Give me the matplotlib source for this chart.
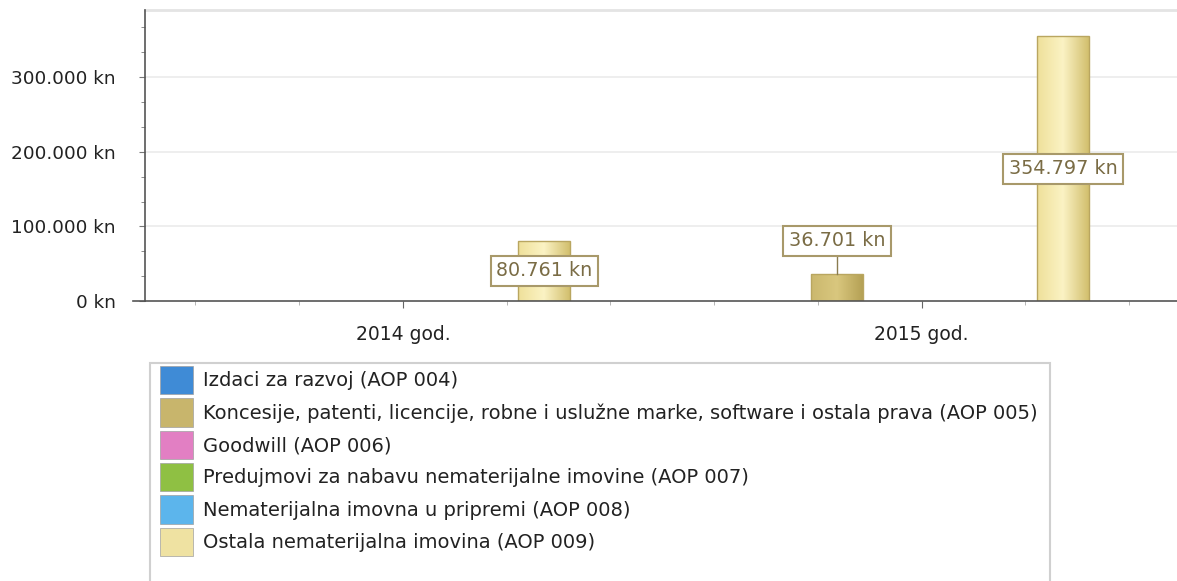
import matplotlib.pyplot as plt
import numpy as np
from matplotlib.patches import Rectangle
from matplotlib.colors import LinearSegmentedColormap

# podaci
years = ['2014 god.', '2015 god.']
series = ['Izdaci za razvoj (AOP 004)',
          'Koncesije, patenti, licencije, robne i uslužne marke, software i ostala prava (AOP 005)',
          'Goodwill (AOP 006)',
          'Predujmovi za nabavu nematerijalne imovine (AOP 007)',
          'Nematerijalna imovna u pripremi (AOP 008)',
          'Ostala nematerijalna imovina (AOP 009)']
aop004 = [0, 0]
aop005 = [0, 36701]
aop006 = [0, 0]
aop007 = [0, 0]
aop008 = [0, 0]
aop009 = [80761, 354797]
values = [aop004, aop005, aop006, aop007, aop008, aop009]
yticks = [0, 100000, 200000, 300000]

colors = ['#3f8bd6', '#c8b56c', '#e27fc3', '#8fc043', '#5cb5ec', '#efe2a2']
grad = {1: ['#cbb86e', '#d9c77e', '#b5a155'],
        5: ['#efe09a', '#fbf3c4', '#d2bf6e']}


def fmt(v):
    return f"{v:,.0f}".replace(',', '.') + ' kn'


fig = plt.figure(figsize=(11.77, 5.81), dpi=100)
ax = fig.add_axes([145 / 1177, 1 - 301 / 581, 1 - 145 / 1177, 291 / 581])

x = np.arange(len(years))
slot = 0.109
width = 0.1
ymax = 390000
lbl = dict(ha='center', va='center', fontsize=13.8, color='#7a6c45', zorder=4,
           bbox=dict(boxstyle='square,pad=0.28', fc='white', ec='#a8996a', lw=1.5))

for i, (name, vals) in enumerate(zip(series, values)):
    pos = x + (i - 2.5) * slot
    bars = ax.bar(pos, vals, width=width, color=colors[i], edgecolor='none', zorder=2)
    for b, v in zip(bars, vals):
        if v <= 0:
            continue
        cmap = LinearSegmentedColormap.from_list('g', grad[i])
        x0, w, h = b.get_x(), b.get_width(), b.get_height()
        im = ax.imshow(np.linspace(0, 1, 100).reshape(1, -1), cmap=cmap, aspect='auto',
                       extent=[x0, x0 + w, 0, h], zorder=2.1)
        im.set_clip_path(b)
        ax.add_patch(Rectangle((x0, 0), w, h, fill=False, edgecolor='#b9a660', lw=1, zorder=2.2))
        # oznaka vrijednosti
        if v > 60000:
            ax.text(x0 + w / 2, v / 2, fmt(v), **lbl)
        else:
            ly = v + 44000
            ax.plot([x0 + w / 2, x0 + w / 2], [v, ly - 14000], color='#8a7c50', lw=1, zorder=3)
            ax.text(x0 + w / 2, ly, fmt(v), **lbl)

ax.set_xlim(-0.497, 1.492)
ax.set_ylim(0, ymax)
ax.set_yticks(yticks)
ax.set_yticklabels([fmt(v) for v in yticks])
ax.set_yticks(np.arange(0, ymax, 100000 / 3), minor=True)
ax.set_xticks(x)
ax.set_xticklabels(years)
ax.set_xticks(np.arange(-0.4, 1.5, 0.2), minor=True)

for v in yticks[1:]:
    ax.axhline(v, color='#ebebeb', lw=1.2, zorder=1)
ax.axhline(ymax, color='#e4e4e4', lw=2, zorder=1, clip_on=False)
ax.plot([-0.52, -0.497], [0, 0], color='#555555', lw=1.2, clip_on=False)

for s in ['top', 'right']:
    ax.spines[s].set_visible(False)
ax.spines['left'].set_color('#555555')
ax.spines['bottom'].set_color('#555555')
ax.spines['left'].set_linewidth(1.2)
ax.spines['bottom'].set_linewidth(1.2)

ax.tick_params(axis='y', which='major', length=4, color='#777777', pad=17,
               labelsize=13.3, labelcolor='#222222')
ax.tick_params(axis='y', which='minor', length=3, color='#777777')
ax.tick_params(axis='x', which='major', length=5, color='#666666', pad=12,
               labelsize=13.5, labelcolor='#222222')
ax.tick_params(axis='x', which='minor', length=3, color='#aaaaaa')

# legenda
fig.patches.append(Rectangle((150 / 1177, -0.05), 900 / 1177, 0.05 + (581 - 363) / 581,
                             transform=fig.transFigure, fill=True, fc='white',
                             ec='#d0d0d0', lw=1.5))
handles = [Rectangle((0, 0), 1, 1, fc=c, ec='#a0a0a0', lw=0.5) for c in colors]
fig.legend(handles, series, loc='upper left', bbox_to_anchor=(160 / 1177, 1 - 366 / 581),
           frameon=False, fontsize=14.0, handlelength=1.7, handleheight=1.86,
           labelspacing=0.21, handletextpad=0.5, borderaxespad=0, borderpad=0,
           labelcolor='#222222')

fig.savefig('out.png', dpi=100)
